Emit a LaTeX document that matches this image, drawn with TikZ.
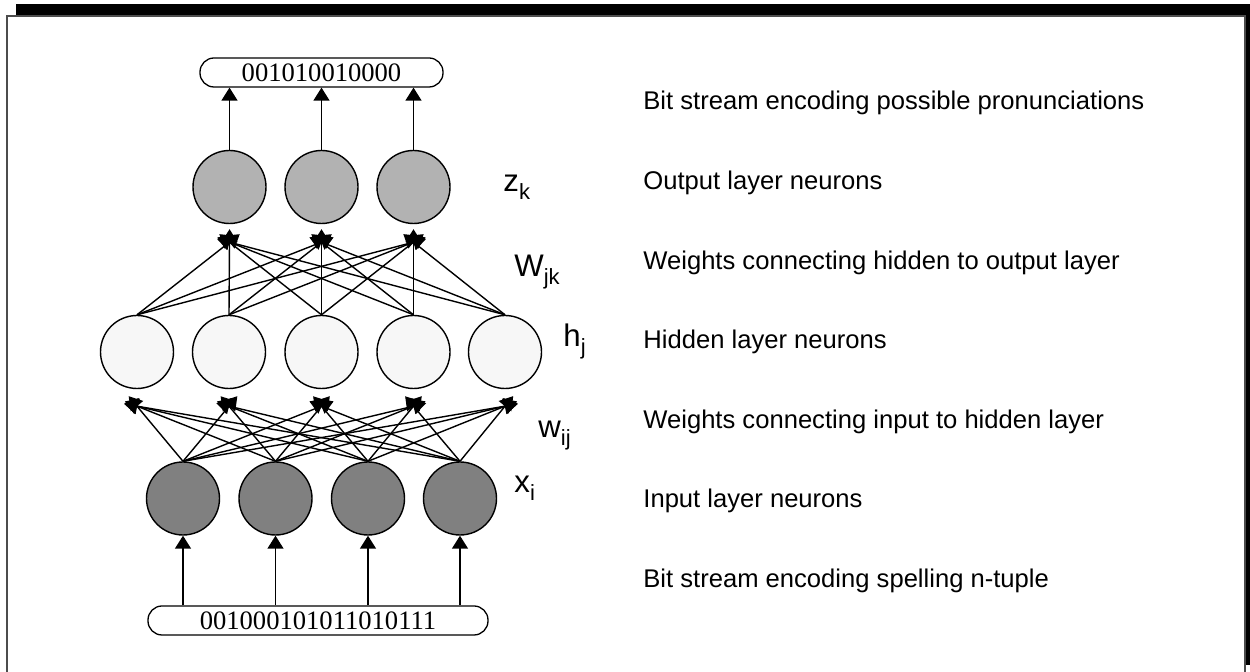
\documentclass[tikz,border=0pt]{standalone}
\usepackage{fontspec}
\setmainfont{Liberation Sans}
\newfontfamily\bitfont{Liberation Serif}
\usetikzlibrary{arrows.meta,calc}
\definecolor{outgray}{gray}{0.70}
\definecolor{hidgray}{gray}{0.97}
\definecolor{ingray}{gray}{0.50}
\definecolor{framegray}{gray}{0.30}
\newcommand\symsub[2]{#1\raisebox{-4pt}{\fontsize{11}{12}\selectfont #2}}

\begin{document}
\begin{tikzpicture}[x=0.5pt,y=-0.5pt,
  neuron/.style={circle,draw,line width=0.7pt,minimum size=36.5pt,inner sep=0pt},
  outn/.style={neuron,fill=outgray},
  hidn/.style={neuron,fill=hidgray},
  inn/.style={neuron,fill=ingray},
  bitbar/.style={draw,line width=0.65pt,rounded corners=7pt,minimum height=14.5pt,
    inner sep=0pt,font=\bitfont\fontsize{13.3}{15}\selectfont},
  link/.style={line width=0.7pt,-{Triangle[length=6.5pt,width=8pt]}},
  wire/.style={link,shorten >=-6.5pt},
  desc/.style={anchor=base west,inner sep=0pt,font=\fontsize{12.8}{15}\selectfont},
  sym/.style={anchor=base west,inner sep=0pt,font=\fontsize{15.6}{18}\selectfont}
]
\useasboundingbox (0,0) rectangle (1250,672);
\clip (0,0) rectangle (1250,672);

% framed panel with a drop shadow
\fill[black] (16,4) rectangle (1256,665);
\draw[framegray,fill=white,line width=0.7pt] (7,16) rectangle (1245,690);

% bit streams
\node[bitbar,minimum width=121.5pt] (obar) at (321.5,72.5) {001010010000};
\node[bitbar,minimum width=170pt] (ibar) at (318,620.5) {001000101011010111};

% output layer
\foreach \k/\x in {1/229.5,2/321.5,3/413.5}
  \node[outn] (o\k) at (\x,187) {};
% hidden layer
\foreach \j/\x in {1/137,2/229,3/321.5,4/413.5,5/505}
  \node[hidn] (h\j) at (\x,352) {};
% input layer
\foreach \i/\x in {1/183,2/275.5,3/368,4/460}
  \node[inn] (i\i) at (\x,498.5) {};

% arrow meeting points below the receiving neurons
\foreach \k in {1,2,3}
  \coordinate (ob\k) at ($(o\k.south)+(0,18)$);
\foreach \j in {1,...,5}
  \coordinate (hb\j) at ($(h\j.south)+(0,17)$);

% input stream to input neurons
\foreach \i in {1,...,4}
  \draw[link] (i\i |- ibar.north) -- (i\i.south);
% input to hidden weights
\foreach \i in {1,...,4}
  \foreach \j in {1,...,5}
    \draw[wire] (i\i.north) -- (hb\j);
% hidden to output weights
\foreach \j in {1,...,5}
  \foreach \k in {1,2,3}
    \draw[wire] (h\j.north) -- (ob\k);
% output neurons to output stream
\foreach \k in {1,2,3}
  \draw[link] (o\k.north) -- (o\k |- obar.south);

% layer symbols
\node[sym] (zk) at (503,192) {\symsub{z}{k}};
\node[sym] (wjk) at (514,277) {\symsub{W}{jk}};
\node[sym] (hj) at (563,347) {\symsub{h}{j}};
\node[sym] (wij) at (538,438) {\symsub{w}{ij}};
\node[sym] (xi) at (514,493) {\symsub{x}{i}};

% descriptions
\node[desc] (d1) at (643,110) {Bit stream encoding possible pronunciations};
\node[desc] (d2) at (643,190) {Output layer neurons};
\node[desc] (d3) at (643,270) {Weights connecting hidden to output layer};
\node[desc] (d4) at (643,349) {Hidden layer neurons};
\node[desc] (d5) at (643,429) {Weights connecting input to hidden layer};
\node[desc] (d6) at (643,508) {Input layer neurons};
\node[desc] (d7) at (643,588) {Bit stream encoding spelling n-tuple};
\end{tikzpicture}
\end{document}
